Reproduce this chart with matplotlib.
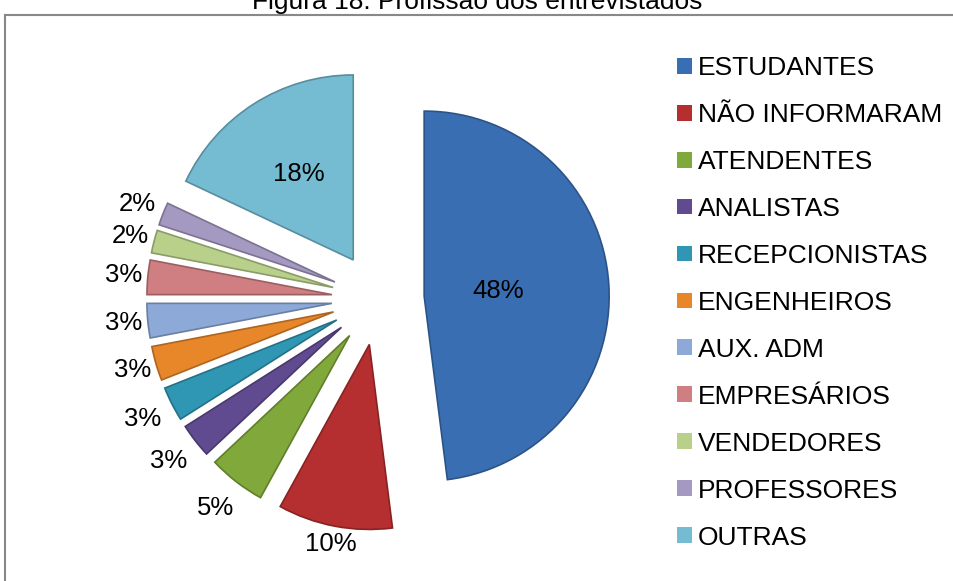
import numpy as np
import matplotlib.pyplot as plt
from matplotlib.patches import Patch
from matplotlib.lines import Line2D
import matplotlib.colors as mcolors

plt.rcParams['font.family'] = ['Liberation Sans', 'DejaVu Sans']

categories = ['ESTUDANTES', 'NÃO INFORMARAM', 'ATENDENTES', 'ANALISTAS',
              'RECEPCIONISTAS', 'ENGENHEIROS', 'AUX. ADM', 'EMPRESÁRIOS',
              'VENDEDORES', 'PROFESSORES', 'OUTRAS']
percent = [48, 10, 5, 3, 3, 3, 3, 3, 2, 2, 18]
title = 'Figura 18: Profissão dos entrevistados'

colors = ['#3A6EB3', '#B52E30', '#80A83A', '#614B90', '#2F97B4', '#E8862A',
          '#8DA9D8', '#CF7F82', '#B9D08A', '#A499C0', '#75BCD2']
# distance of each percent label from its wedge tip (in radii)
label_dist = [0.40, 1.10, 1.18, 1.18, 1.18, 1.13, 1.13, 1.13, 1.13, 1.15, 0.55]

W, H = 954, 581
fig = plt.figure(figsize=(W / 100, H / 100), dpi=100)

# pie axes: centre at (378, 299) px, radius 185 px
cx, cy, R, S = 378, 299, 185, 280
ax = fig.add_axes([(cx - S) / W, (H - cy - S) / H, 2 * S / W, 2 * S / H])

edge = [tuple(np.array(mcolors.to_rgb(c)) * 0.75) for c in colors]
wedges, _ = ax.pie(percent, colors=colors, startangle=90, counterclock=False,
                   explode=[0.25] * len(percent), radius=1,
                   wedgeprops=dict(linewidth=1.2))
for w, ec in zip(wedges, edge):
    w.set_edgecolor(ec)

lim = S / R
ax.set_xlim(-lim, lim)
ax.set_ylim(-lim, lim)
ax.set_aspect('equal')
ax.axis('off')

for w, p, d in zip(wedges, percent, label_dist):
    th = np.deg2rad((w.theta1 + w.theta2) / 2)
    x0, y0 = w.center
    ax.text(x0 + d * w.r * np.cos(th), y0 + d * w.r * np.sin(th), f'{p}%',
            ha='center', va='center', fontsize=18.5, color='black')

handles = [Patch(facecolor=c, edgecolor='none') for c in colors]
fig.legend(handles, categories, loc='upper left',
           bbox_to_anchor=(677 / W, 1 - 56 / H), frameon=False,
           fontsize=19, handlelength=0.57, handleheight=0.55,
           handletextpad=0.22, labelspacing=0.87, borderpad=0,
           borderaxespad=0)

# chart border (partly outside the picture)
fig.add_artist(Line2D([5 / W, 5 / W], [1 - 14.5 / H, -0.05], color='#888888',
                      linewidth=1.5, transform=fig.transFigure))
fig.add_artist(Line2D([5 / W, 1.05], [1 - 14.5 / H, 1 - 14.5 / H],
                      color='#888888', linewidth=1.5,
                      transform=fig.transFigure))

fig.text(0.5, 1 - 9 / H, title, ha='center', va='baseline', fontsize=19)

fig.savefig('out.png', dpi=100)
